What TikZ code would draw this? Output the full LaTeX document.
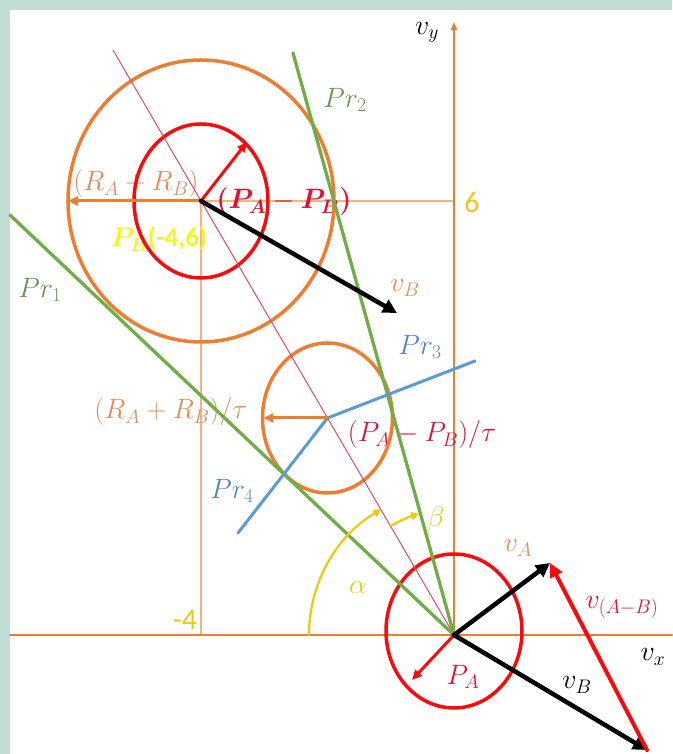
\RequirePackage{fix-cm}
\documentclass[tikz,border=0pt]{standalone}
\usepackage{amsmath,amssymb}
\usepackage{bm}
\usepackage{fontspec}
\setsansfont{Carlito}
\usetikzlibrary{arrows.meta,calc}

\definecolor{bgteal}{RGB}{193,222,213}
\definecolor{axorange}{RGB}{237,125,49}
\definecolor{lblorange}{RGB}{226,140,92}
\definecolor{prgreen}{RGB}{112,173,71}
\definecolor{lblgreen}{RGB}{104,150,78}
\definecolor{prblue}{RGB}{91,155,213}
\definecolor{lblblue}{RGB}{84,132,196}
\definecolor{angyellow}{RGB}{238,200,20}
\definecolor{pbyellow}{RGB}{245,245,30}
\definecolor{linkpink}{RGB}{228,70,110}
\definecolor{vred}{RGB}{250,10,10}
\definecolor{lblred}{RGB}{222,20,50}

\tikzset{
  lbl/.style={font=\fontsize{28}{34}\selectfont,inner sep=0pt},
  numlbl/.style={font=\sffamily\fontsize{30}{36}\selectfont,inner sep=0pt,text=angyellow},
  ring/.style={line width=3.5pt},
  guide/.style={axorange!60,line width=1.3pt},
  vecblack/.style={black,line width=4.5pt,-{Triangle[length=14pt,width=14pt]}},
}

\begin{document}
\begin{tikzpicture}[x=1pt,y=1pt,line cap=round,line join=round]
\path[use as bounding box] (-454,-119) rectangle (218,635);
\fill[bgteal] (-454,-119) rectangle (218,635);
\fill[white] (-444,-119) rectangle (218,625);
% points
\coordinate (O) at (0,0);
\coordinate (PB) at (-253,434);
\coordinate (C2) at ($(O)!0.5!(PB)$);
\coordinate (Xl) at (-444,0);
\coordinate (Xr) at (218,0);
\coordinate (Yt) at (0,613);
\coordinate (G6) at (0,434);
\coordinate (G4) at (-253,0);
\coordinate (PinkEnd) at ($(O)!1.348!(PB)$);
\coordinate (Pr1End) at (-444,420);
\coordinate (Pr2End) at (-161,582);
\coordinate (Pr3End) at (21,274);
\coordinate (Pr4End) at (-216,102);
\coordinate (VA) at (96,72);
\coordinate (VB) at (193,-115);
\coordinate (VBup) at (-57,322);
% grid and axes
\draw[guide] (PB) -- (G6);
\draw[guide] (PB) -- (G4);
\draw[axorange,line width=2.2pt] (Xl) -- (Xr);
\draw[axorange,line width=2.2pt,-{Triangle[length=8pt,width=6pt]}] (O) -- (Yt);
% labels
\node[lbl,text=lblorange] (rsum) at (-318,451) {$(R_A+R_B)$};
\node[lbl,text=lblred] (pdiff) at (-170,433) {$\bm{(P_A}-\bm{P_B)}$};
\node[font=\sffamily\bfseries\fontsize{27}{32}\selectfont,inner sep=0pt,text=pbyellow] (pbname) at (-295,396) {$\bm{P_B}$(-4,6)};
\node[lbl,text=lblorange] (rsumt) at (-283,223) {$(R_A+R_B)/\tau$};
\node[lbl,text=lblred] (pdifft) at (-32,200) {$(P_A-P_B)/\tau$};
\node[numlbl] (six) at (18,433) {6};
\node[numlbl] (mfour) at (-269,15) {-4};
\node[lbl] (vy) at (-27,603) {$v_y$};
\node[lbl] (vx) at (199,-22) {$v_x$};
\node[lbl,text=lblgreen] (pr1) at (-414,345) {$Pr_1$};
\node[lbl,text=lblgreen] (pr2) at (-109,535) {$Pr_2$};
\node[lbl,text=lblblue] (pr3) at (-34,288) {$Pr_3$};
\node[lbl,text=lblblue] (pr4) at (-222,144) {$Pr_4$};
\node[lbl,text=lblorange] (vbup) at (-49,347) {$v_B$};
\node[lbl,text=lblorange] (va) at (64,87) {$v_A$};
\node[lbl] (vb) at (123,-50) {$v_B$};
\node[lbl,text=lblred] (pa) at (9,-42) {$P_A$};
\node[lbl,text=lblred] (vab) at (168,28) {$v_{(A-B)}$};
\node[lbl,text=angyellow] (alpha) at (-96,48) {$\alpha$};
\node[lbl,text=angyellow] (beta) at (-18,115) {$\beta$};
% circles
\draw[axorange,ring] (PB) ellipse [x radius=133,y radius=141];
\draw[vred,ring] (PB) ellipse [x radius=67,y radius=77];
\draw[axorange,ring] (C2) ellipse [x radius=65,y radius=75];
\draw[vred,ring] ($(O)+(0,4)$) ellipse [x radius=68,y radius=77];
% lines
\draw[linkpink,line width=1pt] (O) -- (PinkEnd);
\draw[prgreen,line width=3.3pt] (O) -- (Pr1End);
\draw[prgreen,line width=3.3pt] (O) -- (Pr2End);
\draw[prblue,line width=3pt] (Pr4End) -- (C2) -- (Pr3End);
% radius arrows
\draw[axorange,line width=3pt,-{Triangle[length=10pt,width=9pt]}] (PB) -- ++(-133,0);
\draw[axorange,line width=3pt,-{Triangle[length=10pt,width=9pt]}] (C2) -- ++(-64,0);
\draw[vred,line width=3pt,-{Triangle[length=10pt,width=9pt]}] (PB) -- ++(46,59);
\draw[vred,line width=3pt,-{Triangle[length=10pt,width=9pt]}] (O) -- ++(-42,-45);
% angles
\draw[angyellow,line width=2.3pt,-{Triangle[length=8pt,width=8pt]}] (-145,0) arc[start angle=180,end angle=120,radius=145];
\draw[angyellow,line width=2.3pt,-{Triangle[length=8pt,width=8pt]}] ($(O)+(120:126)$) arc[start angle=120,end angle=106,radius=126];
% velocities
\draw[vecblack] (PB) -- (VBup);
\draw[vecblack] (O) -- (VA);
\draw[vecblack] (O) -- (VB);
\draw[vred,line width=4pt,-{Triangle[length=14pt,width=13pt]}] (VB) -- (VA);
\end{tikzpicture}
\end{document}
